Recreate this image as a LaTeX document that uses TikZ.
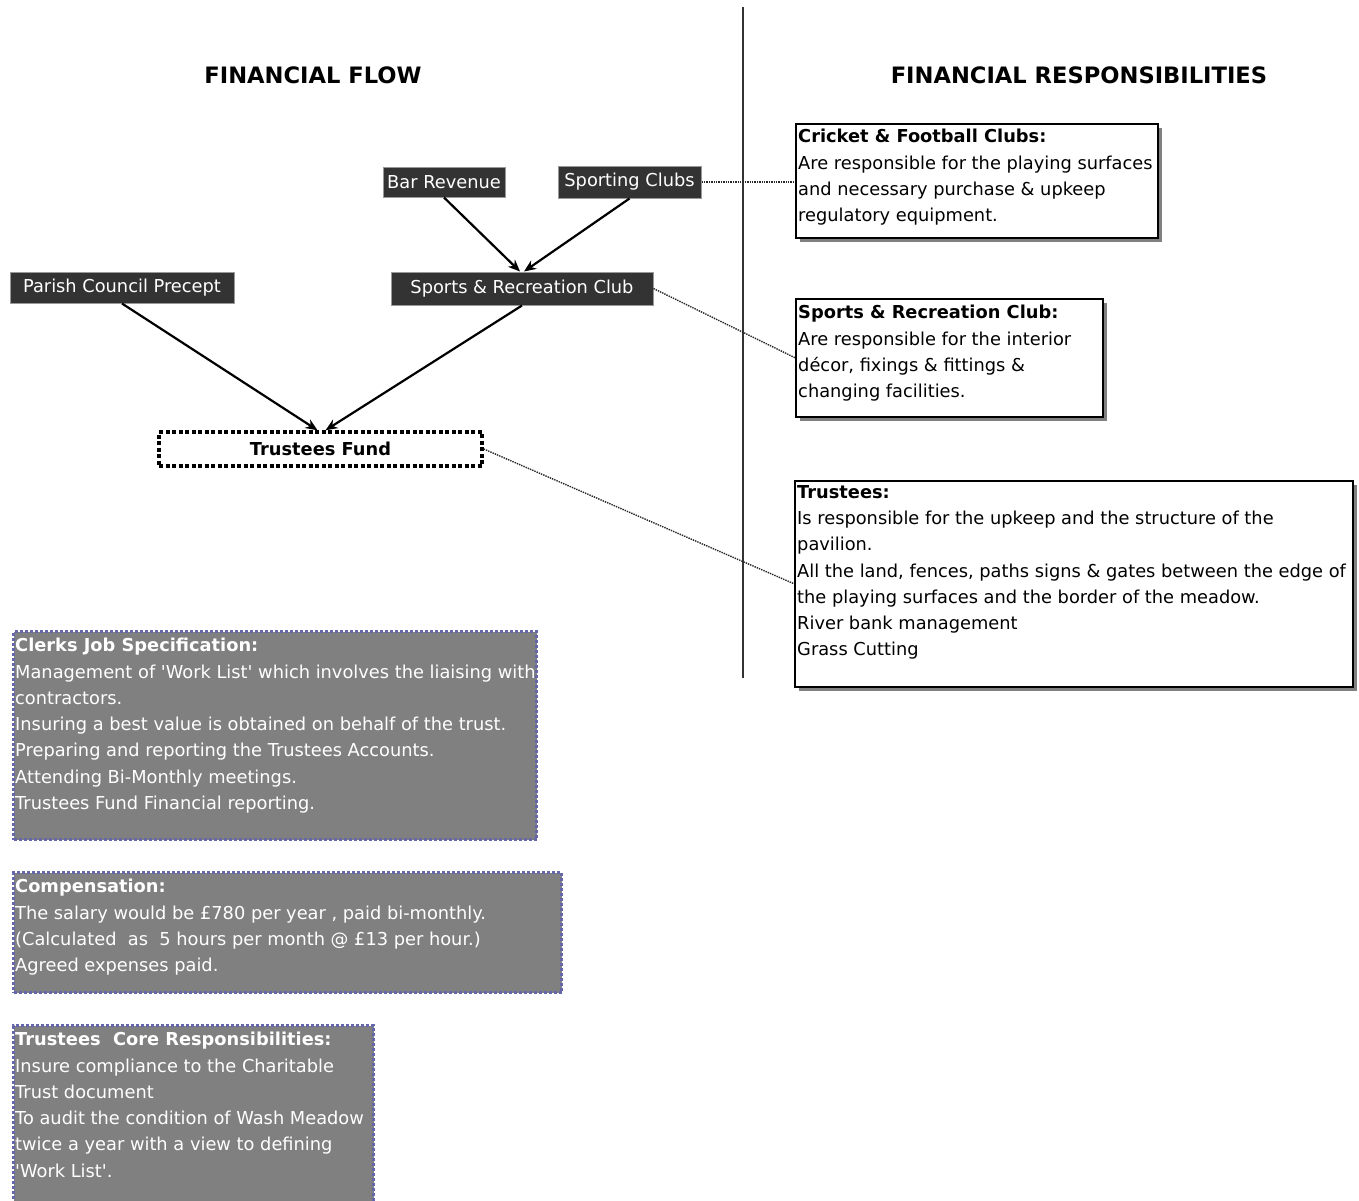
\documentclass[tikz,border=0pt]{standalone}
\usepackage{fontspec}
\setmainfont{DejaVu Sans}
\usetikzlibrary{arrows.meta, shadows}
\definecolor{noteedge}{HTML}{6666AA}
\definecolor{notefill}{HTML}{808080}
\newcommand\bodyfont{\fontsize{17.8}{26.3}\selectfont}
\newcommand\headfont{\fontsize{22.6}{26}\selectfont\bfseries}
\tikzset{
    flowbox/.style={fill=black!80, draw=black!40, line width=1pt, text=white, inner sep=0pt, font=\bodyfont},
    fundbox/.style={draw=black, line width=3.5pt, dash pattern=on 4pt off 2.5pt, fill=white, inner sep=0pt, font=\bodyfont\bfseries},
    respbox/.style={draw=black, line width=1.5pt, fill=white, inner sep=0pt, anchor=north west,
        drop shadow={shadow xshift=4pt, shadow yshift=-4pt, fill=black!50, opacity=1}},
    notebox/.style={draw=noteedge, line width=3pt, dotted, fill=notefill, inner sep=0pt, anchor=north west},
    boxtext/.style={align=left, inner sep=0pt, anchor=north west, font=\bodyfont},
    flow/.style={-{Stealth[length=12pt,width=10pt]}, line width=2.2pt, black},
    link/.style={densely dotted, line width=1.4pt, black!85}
}

\begin{document}
\begin{tikzpicture}[x=1pt, y=-1pt]
    \useasboundingbox (0,0) rectangle (1359,1200);
    % headings and divider
    \node[font=\headfont] (flowhead) at (313,75) {FINANCIAL FLOW};
    \node[font=\headfont] (resphead) at (1079,75) {FINANCIAL RESPONSIBILITIES};
    \draw[line width=2pt, black!80] (743,7) -- (743,678);

    % flow boxes
    \node[flowbox, minimum width=122pt, minimum height=30pt] (bar) at (444,182) {Bar Revenue};
    \node[flowbox, minimum width=143pt, minimum height=32pt] (clubs) at (629.5,182) {Sporting Clubs};
    \node[flowbox, minimum width=224pt, minimum height=31pt] (precept) at (122,287.5) {Parish Council Precept};
    \node[flowbox, minimum width=262pt, minimum height=33pt] (src) at (522,288.5) {Sports \& Recreation Club};
    \node[fundbox, minimum width=323pt, minimum height=34pt] (fund) at (320.5,449) {Trustees Fund};

    \draw[flow] (bar.south) -- ([xshift=-2pt]src.north);
    \draw[flow] (clubs.south) -- ([xshift=2pt]src.north);
    \draw[flow] (precept.south) -- ([xshift=-3pt]fund.north);
    \draw[flow] (src.south) -- ([xshift=5pt]fund.north);

    % responsibility boxes
    \node[respbox, minimum width=362pt, minimum height=114pt] (clubsresp) at (795,123) {};
    \begin{scope}
        \clip (clubsresp.north west) rectangle (clubsresp.south east);
        \node[boxtext] (clubstxt) at ([shift={(3pt,-6pt)}]clubsresp.north west)
            {\textbf{Cricket \& Football Clubs:}\\Are responsible for the playing surfaces\\and necessary purchase \& upkeep\\regulatory equipment.};
    \end{scope}
    \node[respbox, minimum width=307pt, minimum height=118pt] (srcresp) at (795,298) {};
    \node[boxtext] (srctxt) at ([shift={(3pt,-7pt)}]srcresp.north west)
        {\textbf{Sports \& Recreation Club:}\\Are responsible for the interior\\décor, fixings \& fittings \&\\changing facilities.};
    \node[respbox, minimum width=558pt, minimum height=206pt] (trustresp) at (794,480) {};
    \begin{scope}
        \clip (trustresp.north west) rectangle (trustresp.south east);
        \node[boxtext] (trusttxt) at ([shift={(3pt,-5pt)}]trustresp.north west)
            {\textbf{Trustees:}\\Is responsible for the upkeep and the structure of the\\pavilion.\\All the land, fences, paths signs \& gates between the edge of\\the playing surfaces and the border of the meadow.\\River bank management\\Grass Cutting};
    \end{scope}

    \draw[link] (clubs.east) -- (clubs.east -| clubsresp.west);
    \draw[link] (src.east) -- (srcresp.west);
    \draw[link] (fund.east) -- (trustresp.west);

    % notes
    \node[notebox, minimum width=523pt, minimum height=208pt] (clerk) at (12,630) {};
    \begin{scope}
        \clip (clerk.north west) rectangle (clerk.south east);
        \node[boxtext, text=white] (clerktxt) at ([shift={(3pt,-8pt)}]clerk.north west)
            {\textbf{Clerks Job Specification:}\\Management of \textquotesingle Work List\textquotesingle\ which involves the liaising with\\contractors.\\Insuring a best value is obtained on behalf of the trust.\\Preparing and reporting the Trustees Accounts.\\Attending Bi-Monthly meetings.\\Trustees Fund Financial reporting.};
    \end{scope}
    \node[notebox, minimum width=548pt, minimum height=120pt] (pay) at (12,871) {};
    \begin{scope}
        \clip (pay.north west) rectangle (pay.south east);
        \node[boxtext, text=white] (paytxt) at ([shift={(3pt,-8pt)}]pay.north west)
            {\textbf{Compensation:}\\The salary would be £780 per year , paid bi-monthly.\\(Calculated\ \ as\ \ 5 hours per month @ £13 per hour.)\\Agreed expenses paid.};
    \end{scope}
    \node[notebox, minimum width=360pt, minimum height=190pt] (core) at (12,1024) {};
    \begin{scope}
        \clip (core.north west) rectangle (core.south east);
        \node[boxtext, text=white] (coretxt) at ([shift={(3pt,-8pt)}]core.north west)
            {\textbf{Trustees\ \ Core Responsibilities:}\\Insure compliance to the Charitable\\Trust document\\To audit the condition of Wash Meadow\\twice a year with a view to defining\\\textquotesingle Work List\textquotesingle.};
    \end{scope}
\end{tikzpicture}
\end{document}
